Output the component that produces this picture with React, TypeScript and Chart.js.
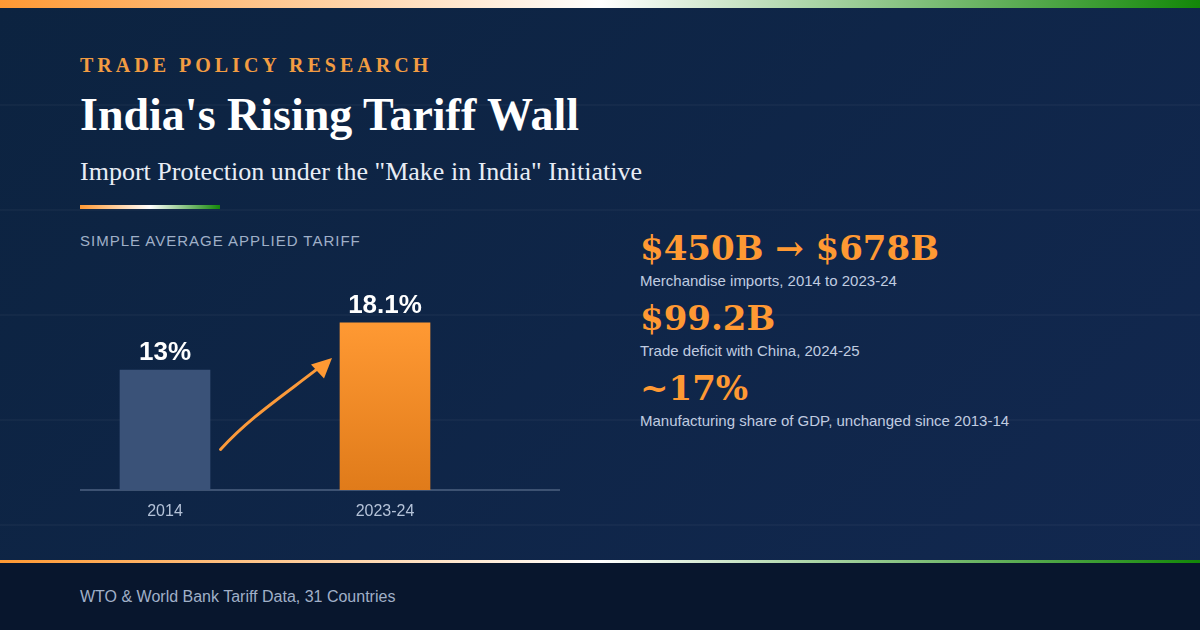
import React, { useEffect, useRef } from "react";
import { Chart, registerables } from "chart.js";

Chart.register(...registerables);

const categories = ["2014", "2023-24"];
const tariffValues = [13, 18.1];
const valueLabels = ["13%", "18.1%"];
const statValues = ["$450B → $678B", "$99.2B", "~17%"];
const statNotes = [
  "Merchandise imports, 2014 to 2023-24",
  "Trade deficit with China, 2024-25",
  "Manufacturing share of GDP, unchanged since 2013-14",
];

const TRICOLOR = "linear-gradient(90deg,#ff9933 0%,#ffffff 50%,#138808 100%)";
const SANS = '"Liberation Sans", sans-serif';
const SERIF = '"Liberation Serif", serif';
const STAT = '"DejaVu Serif", serif';

const overlayPlugin = {
  id: "overlay",
  afterDatasetsDraw(chart: any) {
    const { ctx } = chart;
    const meta = chart.getDatasetMeta(0);
    ctx.save();
    ctx.fillStyle = "#ffffff";
    ctx.font = `bold 26px ${SANS}`;
    ctx.textAlign = "center";
    ctx.textBaseline = "alphabetic";
    meta.data.forEach((bar: any, i: number) => {
      ctx.fillText(valueLabels[i], bar.x, bar.y - 10);
    });
    // growth arrow between the two bars
    const a = meta.data[0];
    const b = meta.data[1];
    const sx = a.x + 55.5, sy = a.y + 79.5;
    const ex = b.x - 53, ey = b.y + 35;
    ctx.strokeStyle = "#fb9a3a";
    ctx.lineWidth = 3;
    ctx.lineCap = "round";
    ctx.beginPath();
    ctx.moveTo(sx, sy);
    ctx.bezierCurveTo(sx + 28, sy - 31, sx + 60, sy - 52, ex - 12, ey + 9);
    ctx.stroke();
    ctx.fillStyle = "#ff9933";
    ctx.beginPath();
    ctx.moveTo(ex, ey);
    ctx.lineTo(ex - 21, ey + 6.5);
    ctx.lineTo(ex - 8, ey + 20.5);
    ctx.closePath();
    ctx.fill();
    ctx.restore();
  },
};

function App() {
  const ref = useRef<HTMLCanvasElement>(null);
  useEffect(() => {
    document.body.style.margin = "0";
    const chart = new Chart(ref.current!, {
      type: "bar",
      data: {
        labels: categories,
        datasets: [
          {
            data: tariffValues.map((y, x) => ({ x, y })),
            barThickness: 90,
            borderWidth: 0,
            backgroundColor: (c: any) => {
              if (c.dataIndex === 0) return "#3a5278";
              const y = c.chart.scales?.y;
              if (!y || !c.chart.chartArea) return "#ff9933";
              const top = y.getPixelForValue(tariffValues[1]);
              const base = y.getPixelForValue(0);
              if (!isFinite(top) || !isFinite(base)) return "#ff9933";
              const g = c.chart.ctx.createLinearGradient(0, top, 0, base);
              g.addColorStop(0, "#ff9933");
              g.addColorStop(1, "#e07b1a");
              return g;
            },
          },
        ],
      } as any,
      options: {
        animation: false,
        responsive: false,
        devicePixelRatio: 1,
        layout: { padding: { left: 21, right: 21, top: 35.4, bottom: 0 } },
        plugins: { legend: { display: false }, tooltip: { enabled: false } },
        scales: {
          x: {
            type: "linear",
            offset: false,
            min: -84 / 220,
            max: 394 / 220,
            afterBuildTicks: (s: any) => {
              s.ticks = categories.map((_, i) => ({ value: i }));
            },
            afterFit: (s: any) => {
              s.height = 40;
            },
            ticks: {
              autoSkip: false,
              maxRotation: 0,
              padding: 12,
              color: "#b4c2d8",
              font: { family: SANS, size: 16 },
              callback: (v: any) => categories[v] ?? "",
            },
            grid: { display: false, drawTicks: false, offset: false },
            border: { display: true, color: "#3d5272", width: 2 },
          },
          y: { display: false, min: 0, max: 20 },
        },
      } as any,
      plugins: [overlayPlugin],
    });
    return () => chart.destroy();
  }, []);

  const abs = (left: number, top: number, extra: any = {}) => ({
    position: "absolute" as const,
    left,
    top,
    whiteSpace: "nowrap" as const,
    ...extra,
  });

  return (
    <div
      style={{
        position: "relative",
        width: 1200,
        height: 630,
        overflow: "hidden",
        background: "linear-gradient(135deg,#0c2340 0%,#122850 100%)",
      }}
    >
      {[105, 210, 315, 420, 525].map((y) => (
        <div key={y} style={{ position: "absolute", left: 0, top: y - 1, width: 1200, height: 2, background: "rgba(255,255,255,0.03)" }} />
      ))}
      <div style={{ position: "absolute", left: 0, top: 0, width: 1200, height: 8, background: TRICOLOR }} />
      <div style={abs(80, 53, { font: `bold 20px/24px ${SERIF}`, letterSpacing: 4, color: "#f29c42" })}>TRADE POLICY RESEARCH</div>
      <div style={abs(80, 87, { font: `bold 46px/56px ${SERIF}`, color: "#ffffff" })}>India's Rising Tariff Wall</div>
      <div style={abs(80, 155, { font: `26px/34px ${SERIF}`, color: "#e8edf5" })}>Import Protection under the "Make in India" Initiative</div>
      <div style={{ position: "absolute", left: 80, top: 205, width: 140, height: 4, background: TRICOLOR }} />
      <div style={abs(80, 232, { font: `15px/18px ${SANS}`, letterSpacing: 1, color: "#a0b0c8" })}>SIMPLE AVERAGE APPLIED TARIFF</div>
      <canvas ref={ref} width={520} height={260} style={{ position: "absolute", left: 60, top: 270, width: 520, height: 260 }} />
      {statValues.map((v, i) => (
        <React.Fragment key={v}>
          <div style={abs(640, 226 + i * 70, { font: `bold 34px/44px ${STAT}`, color: "#ff9933" })}>{v}</div>
          <div style={abs(640, 272 + i * 70, { font: `15px/18px ${SANS}`, color: "#c0cce0" })}>{statNotes[i]}</div>
        </React.Fragment>
      ))}
      <div style={{ position: "absolute", left: 0, top: 560, width: 1200, height: 70, background: "#08162d" }} />
      <div style={{ position: "absolute", left: 0, top: 560, width: 1200, height: 3, background: TRICOLOR }} />
      <div style={abs(80, 587, { font: `16px/20px ${SANS}`, color: "#a0b0c8" })}>WTO &amp; World Bank Tariff Data, 31 Countries</div>
    </div>
  );
}

export default App;
